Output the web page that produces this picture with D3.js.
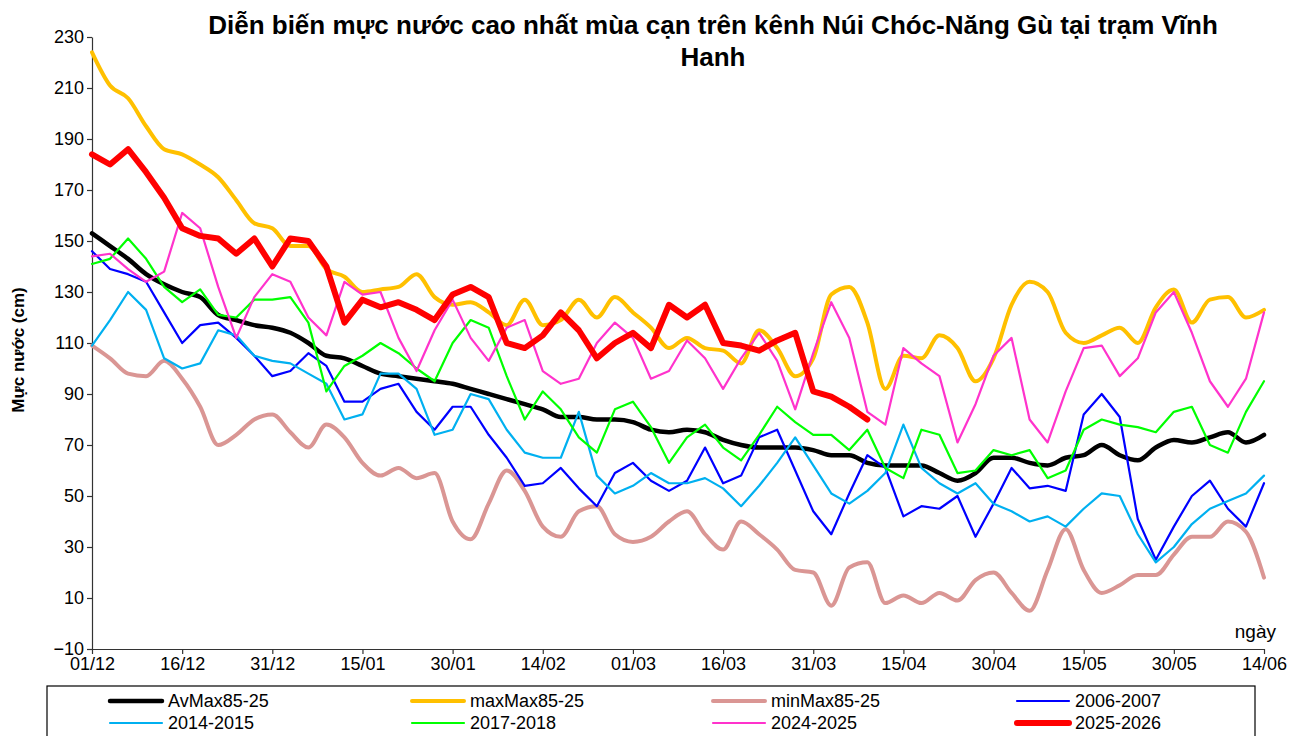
<!DOCTYPE html>
<html>
<head>
<meta charset="utf-8">
<script src="https://cdn.jsdelivr.net/npm/d3@7"></script>
<style>
body { margin: 0; background: #fff; }
svg text { font-family: "Liberation Sans", Arial, sans-serif; fill: #000; }
</style>
</head>
<body>
<div id="chart"></div>
<script>
var width = 1304, height = 736;
var margin = {top: 37, right: 40, bottom: 87, left: 92};

// sampled every 3 days starting 01/12 (day 0) up to 14/06 (day 195)
var days = d3.range(0, 196, 3);
var tickDays = [0, 15, 30, 45, 60, 75, 90, 105, 120, 135, 150, 165, 180, 195];
var tickLabels = ["01/12", "16/12", "31/12", "15/01", "30/01", "14/02", "01/03",
                  "16/03", "31/03", "15/04", "30/04", "15/05", "30/05", "14/06"];
var yTicks = [-10, 10, 30, 50, 70, 90, 110, 130, 150, 170, 190, 210, 230];

var seriesNames = ["AvMax85-25", "maxMax85-25", "minMax85-25", "2006-2007",
                   "2014-2015", "2017-2018", "2024-2025", "2025-2026"];

var avMax = [153,148,143,137,133,130,128,121,119,117,
  116,114,110,105,104,101,98,97,96,95,
  94,92,90,88,86,84,81,81,80,80,
  79,76,75,76,75,72,70,69,69,69,
  68,66,66,63,62,62,62,59,56,59,
  65,65,63,62,65,66,70,66,64,69,
  72,71,73,75,71,74];

var maxMax = [224,211,206,195,186,184,180,175,166,157,
  155,148,148,139,136,130,131,132,137,128,
  125,126,122,117,127,117,119,127,120,128,
  122,116,108,112,108,107,102,115,108,97,
  104,129,132,118,92,105,104,113,108,95,
  104,125,134,130,114,110,113,116,110,124,
  131,118,127,128,120,123];

var minMax = [109,104,98,97,103,96,85,70,74,80,
  82,75,69,78,73,63,58,61,57,59,
  40,33,47,60,52,38,34,44,46,35,
  32,34,40,44,35,29,40,35,29,21,
  20,7,22,24,8,11,8,12,9,17,
  20,12,5,21,37,21,12,15,19,19,
  27,34,34,40,36,18];

var y2006 = [146,139,137,134,122,110,117,118,112,105,
  97,99,106,101,87,87,92,94,83,76,
  85,85,74,65,54,55,61,53,46,59,
  63,56,52,56,69,55,58,73,76,60,
  44,35,51,66,61,42,46,45,50,34,
  47,61,53,54,52,82,90,81,41,25,
  38,50,56,45,38,55];

var y2014 = [109,119,130,123,104,100,102,115,113,105,
  103,102,98,94,80,82,98,98,92,74,
  76,90,88,76,67,65,65,83,58,51,
  54,59,55,55,57,53,46,54,63,73,
  62,51,47,52,59,78,61,55,51,55,
  47,44,40,42,38,45,51,50,35,24,
  30,39,45,48,51,58];

var y2017 = [141,143,151,143,132,126,131,121,120,127,
  127,128,118,91,101,105,110,106,100,95,
  110,119,116,97,80,91,84,73,67,84,
  87,77,63,73,78,69,64,74,85,79,
  74,74,68,76,61,57,76,74,59,60,
  68,66,68,57,60,76,80,78,77,75,
  83,85,70,67,83,95];

var y2024 = [144,145,139,134,138,161,155,132,112,128,
  137,134,120,113,134,129,130,112,99,115,
  127,112,103,116,119,99,94,96,110,118,
  112,96,99,111,104,92,104,114,103,84,
  106,126,112,83,78,108,102,97,71,86,
  105,112,80,71,91,108,109,97,104,122,
  130,114,95,85,96,122];

var y2025 = [184,180,186,177,167,155,152,151,145,151,
  140,151,150,140,118,127,124,126,123,119,
  129,132,128,110,108,113,122,115,104,110,
  114,108,125,120,125,110,109,107,111,114,
  91,89,85,80];

var seriesData = [avMax, maxMax, minMax, y2006, y2014, y2017, y2024, y2025];
var colors = ["#000000", "#FFC000", "#DA9694", "#0000FF", "#00B0F0", "#00FF00", "#FF33CC", "#FF0000"];
var widths = [4.5, 4, 4, 2.2, 2.2, 2.2, 2.2, 6];
// smooth the three statistic lines, keep yearly lines angular
var smooth = [true, true, true, false, false, false, false, false];

var svg = d3.select("#chart").append("svg")
  .attr("width", width)
  .attr("height", height);

var x = d3.scaleLinear().domain([0, 195]).range([margin.left, width - margin.right]);
var y = d3.scaleLinear().domain([-10, 230]).range([height - margin.bottom, margin.top]);

// title
var title = svg.append("text")
  .attr("text-anchor", "middle")
  .attr("font-weight", "bold")
  .attr("font-size", "26px");
title.append("tspan").attr("x", 713).attr("y", 34)
  .text("Diễn biến mực nước cao nhất mùa cạn trên kênh Núi Chóc-Năng Gù tại trạm Vĩnh");
title.append("tspan").attr("x", 713).attr("y", 66).text("Hanh");

// axes
svg.append("g")
  .attr("transform", "translate(" + margin.left + ",0)")
  .call(d3.axisLeft(y).tickValues(yTicks).tickSize(5).tickSizeOuter(0).tickPadding(3));

svg.append("g")
  .attr("transform", "translate(0," + (height - margin.bottom) + ")")
  .call(d3.axisBottom(x).tickValues(tickDays).tickSize(5).tickSizeOuter(0).tickPadding(3)
    .tickFormat(function(d, i) { return tickLabels[i]; }));

svg.selectAll(".tick text").attr("font-size", "18px").attr("font-family", "Liberation Sans, Arial, sans-serif");
svg.selectAll(".domain, .tick line").attr("stroke", "#333").attr("stroke-width", 1.2);

svg.append("text")
  .attr("transform", "translate(24,350) rotate(-90)")
  .attr("text-anchor", "middle")
  .attr("font-weight", "bold")
  .attr("font-size", "17px")
  .text("Mực nước (cm)");

svg.append("text")
  .attr("x", 1276)
  .attr("y", 638)
  .attr("text-anchor", "end")
  .attr("font-size", "19px")
  .text("ngày");

// lines
seriesData.forEach(function(vals, k) {
  var line = d3.line()
    .x(function(d, i) { return x(days[i]); })
    .y(function(d) { return y(d); })
    .curve(smooth[k] ? d3.curveMonotoneX : d3.curveLinear);
  svg.append("path")
    .datum(vals)
    .attr("fill", "none")
    .attr("stroke", colors[k])
    .attr("stroke-width", widths[k])
    .attr("stroke-linejoin", "round")
    .attr("stroke-linecap", "round")
    .attr("d", line);
});

// legend
svg.append("rect")
  .attr("x", 47).attr("y", 686)
  .attr("width", 1208).attr("height", 60)
  .attr("fill", "none")
  .attr("stroke", "#000")
  .attr("stroke-width", 1.2);

var colX = [110, 412, 713, 1017];
var rowY = [701, 723];
seriesNames.forEach(function(name, k) {
  var cx = colX[k % 4], cy = rowY[Math.floor(k / 4)];
  svg.append("line")
    .attr("x1", cx).attr("x2", cx + 52)
    .attr("y1", cy).attr("y2", cy)
    .attr("stroke", colors[k])
    .attr("stroke-width", widths[k])
    .attr("stroke-linecap", "round");
  svg.append("text")
    .attr("x", cx + 58)
    .attr("y", cy + 6)
    .attr("font-size", "18px")
    .text(name);
});
</script>
</body>
</html>
